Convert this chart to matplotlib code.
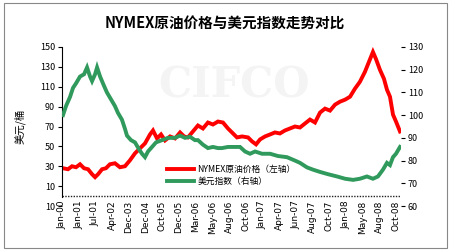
import matplotlib
matplotlib.use("Agg")
import matplotlib.pyplot as plt
from matplotlib.patches import Rectangle

plt.rcParams['font.family'] = ['Noto Sans CJK SC', 'DejaVu Sans']

title = "NYMEX原油价格与美元指数走势对比"
ylabel_left = "美元/桶"
legend_oil = "NYMEX原油价格（左轴）"
legend_usd = "美元指数（右轴）"

tick_labels = ["Jan-00", "Jan-01", "Jul-01", "Apr-02", "Dec-03", "Dec-04", "Oct-05",
               "Dec-05", "Mar-06", "May-06", "Aug-06", "Oct-06", "Jan-07", "Apr-07",
               "Jun-07", "Aug-07", "Oct-07", "Jan-08", "May-08", "Aug-08", "Oct-08"]

left_ticks = [-10, 10, 30, 50, 70, 90, 110, 130, 150]
left_tick_labels = ["10", "10", "30", "50", "70", "90", "110", "130", "150"]
right_ticks = [60, 70, 80, 90, 100, 110, 120, 130]

oil_pos = [0.06, 0.36, 0.60, 0.84, 1.08, 1.32, 1.56, 1.80, 1.98, 2.16, 2.40, 2.63, 2.87,
           3.17, 3.47, 3.77, 4.07, 4.37, 4.67, 4.97, 5.27, 5.45, 5.69, 5.93, 6.17, 6.47,
           6.77, 7.07, 7.31, 7.54, 7.84, 8.14, 8.44, 8.74, 9.04, 9.34, 9.64, 9.94, 10.24,
           10.48, 10.78, 11.14, 11.38, 11.62, 11.86, 12.16, 12.46, 12.75, 13.05, 13.35,
           13.65, 13.95, 14.25, 14.55, 14.85, 15.15, 15.45, 15.75, 16.05, 16.35, 16.65,
           16.95, 17.25, 17.54, 17.84, 18.14, 18.38, 18.62, 18.80, 19.04, 19.28, 19.46,
           19.64, 19.82, 20.00, 20.24]
oil_val = [28, 27, 30, 29, 32, 28, 27, 22, 19, 22, 27, 28, 32,
           33, 29, 30, 36, 43, 48, 53, 62, 66, 58, 62, 56, 60,
           58, 64, 60, 59, 65, 71, 68, 74, 72, 75, 74, 68, 63,
           59, 60, 59, 55, 52, 57, 60, 62, 64, 63, 66,
           68, 70, 69, 73, 77, 74, 84, 88, 86, 92, 95,
           97, 100, 108, 115, 125, 135, 145, 138, 127, 118, 107,
           100, 82, 75, 65]

usd_pos = [0.06, 0.24, 0.48, 0.66, 0.84, 1.08, 1.32, 1.50, 1.68, 1.80, 1.98, 2.10, 2.28,
           2.51, 2.69, 2.93, 3.17, 3.35, 3.59, 3.77, 3.89, 4.13, 4.37, 4.61, 4.79, 4.97,
           5.15, 5.39, 5.63, 5.99, 6.35, 6.77, 7.07, 7.37, 7.66, 7.96, 8.14, 8.44, 8.74,
           9.04, 9.34, 9.58, 9.94, 10.36, 10.66, 10.96, 11.26, 11.56, 11.98, 12.46, 12.93,
           13.47, 13.95, 14.25, 14.67, 15.03, 15.45, 15.93, 16.47, 16.95, 17.43, 17.84,
           18.26, 18.62, 18.92, 19.22, 19.46, 19.64, 19.82, 20.00, 20.24]
usd_val = [100, 104, 108, 112, 114, 117, 118, 121, 117, 115, 118, 121, 117,
           113, 110, 107, 104, 101, 98, 94, 91, 89, 88, 85, 83, 81.5,
           84, 86, 88, 89, 90, 90, 91, 90, 90.5, 89, 89, 87, 85.5,
           86, 85.5, 85.5, 86, 86, 86, 84, 83, 84, 83, 83, 82,
           81.5, 80, 79, 77, 76, 75, 74, 73, 72, 71.5, 72,
           73, 72, 73, 76, 79, 78, 81.5, 83, 86]

RED = "#ff0000"
GREEN = "#2f9a5c"

fig = plt.figure(figsize=(4.5, 2.5), dpi=100)
fig.patches.append(Rectangle((0.008, 0.01), 0.985, 0.98, transform=fig.transFigure,
                             fill=False, edgecolor="#888888", linewidth=0.8))

ax1 = fig.add_axes([62 / 450, 44 / 250, 339 / 450, 159 / 250])
ax2 = ax1.twinx()

fig.text(0.52, 0.66, "CIFCO", fontsize=30, color="#f4f4f4", ha="center", va="center",
         fontweight="bold", family="DejaVu Serif", zorder=0)

l1, = ax1.plot(oil_pos, oil_val, color=RED, linewidth=2.8, solid_joinstyle="miter")
l2, = ax2.plot(usd_pos, usd_val, color=GREEN, linewidth=2.8, solid_joinstyle="miter")

ax1.set_xlim(0, 20.3)
ax1.set_ylim(-10, 150)
ax2.set_ylim(60, 130)

ax1.set_yticks(left_ticks)
ax1.set_yticklabels(left_tick_labels, fontsize=6.5)
ax2.set_yticks(right_ticks)
ax2.set_yticklabels([str(v) for v in right_ticks], fontsize=6.5)

ax1.set_xticks(range(len(tick_labels)))
ax1.set_xticklabels(tick_labels, rotation=90, fontsize=6.5, family="DejaVu Sans")
ax1.tick_params(axis="x", length=0, pad=-4)
ax1.tick_params(axis="y", length=3, width=0.8, pad=2)
ax2.tick_params(axis="y", length=3, width=0.8, pad=2)

ax1.axhline(0, color="#222222", linewidth=1.0, linestyle=(0, (1, 1)))

for ax in (ax1, ax2):
    for s in ("top", "right", "bottom"):
        ax.spines[s].set_visible(False)
ax2.spines["left"].set_visible(False)
ax1.spines["left"].set_bounds(-1, 150)
ax1.spines["left"].set_linewidth(0.8)

ax1.set_ylabel(ylabel_left, fontsize=7.5, labelpad=10)

fig.text(0.5, 0.91, title, ha="center", va="center", fontsize=10.5, fontweight="bold")

fig.legend([l1, l2], [legend_oil, legend_usd], loc="lower left",
           bbox_to_anchor=(163 / 450, 60 / 250), frameon=False, fontsize=6.3,
           handlelength=3.0, handletextpad=0.4, labelspacing=0.3, borderpad=0)

fig.savefig("out.png", dpi=100, facecolor="white")
